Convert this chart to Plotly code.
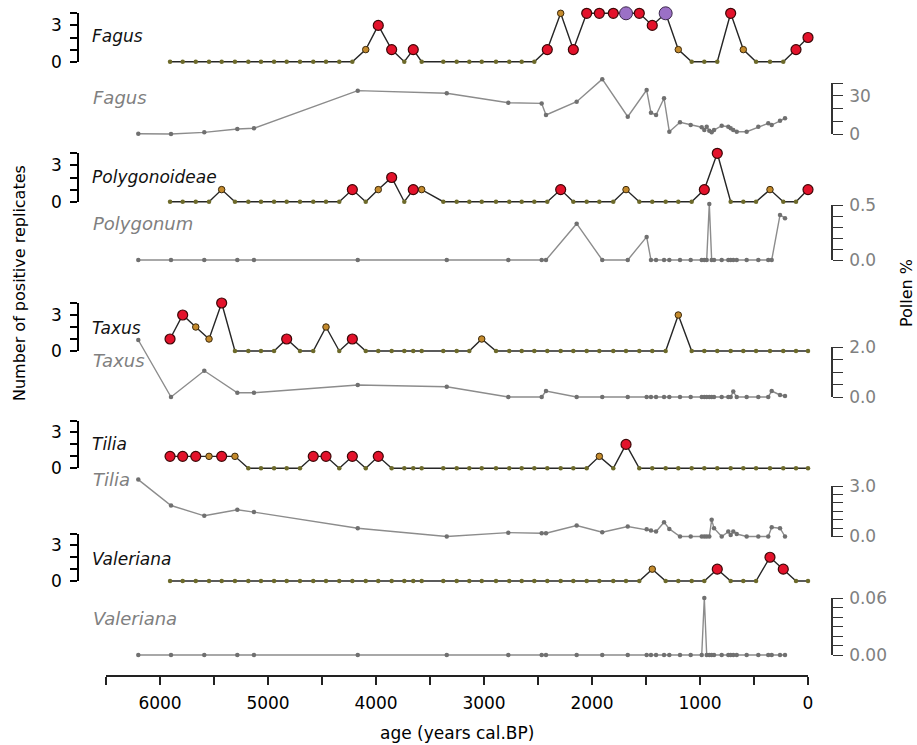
import plotly.graph_objects as go

W, H = 917, 745

# ---------------- data ----------------
REP_AGE = [5907, 5790, 5669, 5546, 5429, 5306, 5182, 5065, 4944, 4827,
           4704, 4581, 4463, 4340, 4219, 4095, 3979, 3855, 3738, 3655,
           3577, 3377, 3253, 3136, 3021, 2889, 2766, 2651, 2534, 2414,
           2290, 2173, 2049, 1932, 1803, 1685, 1562, 1442, 1318, 1201,
           1077, 960, 840, 716, 599, 481, 352, 229, 111, 0]

POL_AGE = [6201, 5898, 5590, 5284, 5130, 4169, 3345, 2775, 2466, 2426,
           2142, 1905, 1669, 1494, 1454, 1407, 1333, 1284, 1185, 1086,
           984, 960, 938, 914, 892, 870, 799, 738, 716, 692,
           660, 568, 460, 368, 336, 259, 213]

# replicate counts (0-4) and point class: n = none, o = weak, r = positive, p = special
FAGUS_REP = [0, 0, 0, 0, 0, 0, 0, 0, 0, 0, 0, 0, 0, 0, 0, 1, 3, 1, 0, 1,
             0, 0, 0, 0, 0, 0, 0, 0, 0, 1, 4, 1, 4, 4, 4, 4, 4, 3, 4, 1,
             0, 0, 0, 4, 1, 0, 0, 0, 1, 2]
FAGUS_CAT = "nnnnnnnnnnnnnnnorrnrnnnnnnnnnrorrrrprrponnnronnnrr"

POLY_REP = [0, 0, 0, 0, 1, 0, 0, 0, 0, 0, 0, 0, 0, 0, 1, 0, 1, 2, 0, 1,
            1, 0, 0, 0, 0, 0, 0, 0, 0, 0, 1, 0, 0, 0, 0, 1, 0, 0, 0, 0,
            0, 1, 4, 0, 0, 0, 1, 0, 0, 1]
POLY_CAT = "nnnnonnnnnnnnnrnornronnnnnnnnnrnnnnonnnnnrrnnnonnr"

TAXUS_REP = [1, 3, 2, 1, 4, 0, 0, 0, 0, 1, 0, 0, 2, 0, 1, 0, 0, 0, 0, 0,
             0, 0, 0, 0, 1, 0, 0, 0, 0, 0, 0, 0, 0, 0, 0, 0, 0, 0, 0, 3,
             0, 0, 0, 0, 0, 0, 0, 0, 0, 0]
TAXUS_CAT = "rroornnnnrnnonrnnnnnnnnnonnnnnnnnnnnnnnonnnnnnnnnn"

TILIA_REP = [1, 1, 1, 1, 1, 1, 0, 0, 0, 0, 0, 1, 1, 0, 1, 0, 1, 0, 0, 0,
             0, 0, 0, 0, 0, 0, 0, 0, 0, 0, 0, 0, 0, 1, 0, 2, 0, 0, 0, 0,
             0, 0, 0, 0, 0, 0, 0, 0, 0, 0]
TILIA_CAT = "rrroronnnnnrrnrnrnnnnnnnnnnnnnnnnonrnnnnnnnnnnnnnn"

VALER_REP = [0, 0, 0, 0, 0, 0, 0, 0, 0, 0, 0, 0, 0, 0, 0, 0, 0, 0, 0, 0,
             0, 0, 0, 0, 0, 0, 0, 0, 0, 0, 0, 0, 0, 0, 0, 0, 0, 1, 0, 0,
             0, 0, 1, 0, 0, 0, 2, 1, 0, 0]
VALER_CAT = "nnnnnnnnnnnnnnnnnnnnnnnnnnnnnnnnnnnnnonnnnrnnnrrnn"

# pollen percentages
FAGUS_POL = [0.2, 0, 1.3, 3.9, 4.5, 34, 32, 24.5, 24, 14.9,
             25.3, 43, 13.6, 34.5, 16.7, 14.9, 28, 1.8, 9.2, 7,
             5.3, 3.1, 5.7, 2.6, 1.3, 3.1, 6.5, 5.7, 4.5, 3.1,
             1.8, 1.8, 5.7, 8.4, 7, 10.4, 12.3]
POLYG_POL = [0, 0, 0, 0, 0, 0, 0, 0, 0, 0,
             0.33, 0, 0, 0.21, 0, 0, 0, 0, 0, 0,
             0, 0, 0, 0.51, 0, 0, 0, 0, 0, 0,
             0, 0, 0, 0, 0, 0.41, 0.38]
TAXUS_POL = [2.28, 0, 1.05, 0.17, 0.17, 0.48, 0.41, 0, 0, 0.24,
             0, 0, 0, 0, 0, 0, 0, 0, 0, 0,
             0, 0, 0, 0, 0, 0, 0, 0, 0, 0.22,
             0, 0, 0, 0, 0.24, 0.08, 0.04]
TILIA_POL = [3.38, 1.84, 1.23, 1.59, 1.45, 0.49, 0, 0.23, 0.19, 0.19,
             0.65, 0.25, 0.59, 0.43, 0.35, 0.29, 0.85, 0.45, 0, 0,
             0, 0, 0, 0, 0.99, 0.49, 0, 0.29, 0.09, 0.29,
             0.15, 0, 0, 0, 0.55, 0.49, 0]
VALER_POL = [0, 0, 0, 0, 0, 0, 0, 0, 0, 0,
             0, 0, 0, 0, 0, 0, 0, 0, 0, 0,
             0, 0.06, 0, 0, 0, 0, 0, 0, 0, 0,
             0, 0, 0, 0, 0, 0, 0]

REP_NAMES = ["Fagus", "Polygonoideae", "Taxus", "Tilia", "Valeriana"]
POL_NAMES = ["Fagus", "Polygonum", "Taxus", "Tilia", "Valeriana"]
REPS = [FAGUS_REP, POLY_REP, TAXUS_REP, TILIA_REP, VALER_REP]
CATS = [FAGUS_CAT, POLY_CAT, TAXUS_CAT, TILIA_CAT, VALER_CAT]
POLS = [FAGUS_POL, POLYG_POL, TAXUS_POL, TILIA_POL, VALER_POL]

POL_TOP = [40, 0.5, 2.0, 3.0, 0.06]
POL_NTICK = [4, 5, 4, 6, 6]
POL_TICKTEXT = [["0", "", "", "30", ""],
                ["0.0", "", "", "", "", "0.5"],
                ["0.0", "", "", "", "2.0"],
                ["0.0", "", "", "", "", "", "3.0"],
                ["0.00", "", "", "", "", "", "0.06"]]

X_TICKS = list(range(0, 6501, 500))
X_LABELS = [str(v) if v % 1000 == 0 and v <= 6000 else "" for v in X_TICKS]

# ---------------- layout geometry (pixels) ----------------
REP_PIX = [(61.7, 13.3), (201.7, 153.3), (351, 303), (468.3, 420.5), (581, 533.5)]
POL_PIX = [(134, 83), (260, 205), (397, 347), (536.5, 486), (655, 598)]
REP_LAB_Y = [36, 177, 328, 444, 559]
POL_LAB_Y = [98, 224, 361, 480, 618]

FONT = "DejaVu Sans, Liberation Sans, Arial, sans-serif"


def pap(py):
    return 1 - py / H


COL = {"n": dict(size=4.5, color="#6d6a2a", line=dict(width=0)),
       "o": dict(size=6.5, color="#c48a2c", line=dict(width=1, color="#3b2a0e")),
       "r": dict(size=10, color="#e3122b", line=dict(width=1.2, color="#3d0808")),
       "p": dict(size=13, color="#9b70c6", line=dict(width=1, color="#3d2a4c"))}

fig = go.Figure()
layout = dict(
    template="none",
    width=W, height=H, margin=dict(l=0, r=0, t=0, b=0, autoexpand=False),
    paper_bgcolor="white", plot_bgcolor="rgba(0,0,0,0)",
    showlegend=False, font=dict(family=FONT, size=16, color="black"),
    xaxis=dict(domain=[106 / W, 808 / W], range=[6500, 0], anchor="free",
               position=pap(676), showline=True, linecolor="#222", linewidth=1.5,
               ticks="outside", ticklen=8, tickwidth=1.5, tickcolor="#222",
               tickvals=X_TICKS, ticktext=X_LABELS, tickfont=dict(size=17),
               ticklabelstandoff=4, automargin=False,
               showgrid=False, zeroline=False, fixedrange=True),
)
annotations = []


def key(n):
    return "yaxis" if n == 1 else f"yaxis{n}"


def ref(n):
    return "y" if n == 1 else f"y{n}"


for i in range(5):
    n_rd, n_rs, n_pd, n_ps = 4 * i + 1, 4 * i + 2, 4 * i + 3, 4 * i + 4

    # replicate panel
    z, t = REP_PIX[i]
    s = (z - t) / 4
    layout[key(n_rd)] = dict(domain=[pap(z + s), pap(t - s)], range=[-1, 5], visible=False,
                             anchor="x", fixedrange=True, automargin=False)
    layout[key(n_rs)] = dict(domain=[pap(z), pap(t)], range=[0, 4], anchor="free",
                             position=78 / W, side="left", showline=True,
                             linecolor="black", linewidth=1.6, ticks="outside",
                             ticklen=7, tickwidth=1.5, tickcolor="black",
                             tickvals=[0, 1, 2, 3, 4], ticktext=["0", "", "", "3", ""],
                             tickfont=dict(size=17, color="black"), ticklabelstandoff=5,
                             automargin=False,
                             showgrid=False, zeroline=False, fixedrange=True)
    fig.add_trace(go.Scatter(x=[None], y=[None], xaxis="x", yaxis=ref(n_rs),
                             hoverinfo="skip", mode="markers"))
    rep = REPS[i]
    cat = CATS[i]
    fig.add_trace(go.Scatter(x=REP_AGE, y=rep, mode="lines", xaxis="x", yaxis=ref(n_rd),
                             line=dict(color="#262626", width=1.4), hoverinfo="skip"))
    for c in "norp":
        xs = [a for a, k in zip(REP_AGE, cat) if k == c]
        ys = [v for v, k in zip(rep, cat) if k == c]
        if xs:
            fig.add_trace(go.Scatter(x=xs, y=ys, mode="markers", xaxis="x", yaxis=ref(n_rd),
                                     marker=COL[c], cliponaxis=False))

    # pollen panel
    z, t = POL_PIX[i]
    top = POL_TOP[i]
    span = z - t
    layout[key(n_pd)] = dict(domain=[pap(z + 0.2 * span), pap(t - 0.4 * span)],
                             range=[-0.2 * top, 1.4 * top], visible=False,
                             anchor="x", fixedrange=True, automargin=False)
    nt = POL_NTICK[i]
    tv = [top * k / nt for k in range(nt + 1)]
    layout[key(n_ps)] = dict(domain=[pap(z), pap(t)], range=[0, top], anchor="free",
                             position=832 / W, side="right", showline=True,
                             linecolor="#333", linewidth=1.5, ticks="outside",
                             ticklen=10, tickwidth=1.4, tickcolor="#333",
                             tickvals=tv, ticktext=POL_TICKTEXT[i],
                             tickfont=dict(size=17, color="#808080"), ticklabelstandoff=3,
                             automargin=False,
                             showgrid=False, zeroline=False, fixedrange=True)
    fig.add_trace(go.Scatter(x=[None], y=[None], xaxis="x", yaxis=ref(n_ps),
                             hoverinfo="skip", mode="markers"))
    fig.add_trace(go.Scatter(x=POL_AGE, y=POLS[i], mode="lines+markers", xaxis="x",
                             yaxis=ref(n_pd), cliponaxis=False,
                             line=dict(color="#8c8c8c", width=1.4),
                             marker=dict(size=4.5, color="#707070")))

    annotations.append(dict(text=f"<i>{REP_NAMES[i]}</i>", x=90 / W, y=pap(REP_LAB_Y[i]),
                            xref="paper", yref="paper", xanchor="left", yanchor="middle",
                            showarrow=False, font=dict(size=17, color="#111")))
    annotations.append(dict(text=f"<i>{POL_NAMES[i]}</i>", x=91 / W, y=pap(POL_LAB_Y[i]),
                            xref="paper", yref="paper", xanchor="left", yanchor="middle",
                            showarrow=False, font=dict(size=18, color="#808080")))

annotations.append(dict(text="Number of positive replicates", x=19 / W, y=pap(283),
                        xref="paper", yref="paper", xanchor="center", yanchor="middle",
                        textangle=-90, showarrow=False, font=dict(size=16, color="black")))
annotations.append(dict(text="Pollen %", x=906 / W, y=pap(293),
                        xref="paper", yref="paper", xanchor="center", yanchor="middle",
                        textangle=-90, showarrow=False, font=dict(size=16, color="black")))
annotations.append(dict(text="age (years cal.BP)", x=457 / W, y=pap(733),
                        xref="paper", yref="paper", xanchor="center", yanchor="middle",
                        showarrow=False, font=dict(size=17, color="black")))

layout["annotations"] = annotations
fig.update_layout(**layout)
fig.write_html("out.html")
